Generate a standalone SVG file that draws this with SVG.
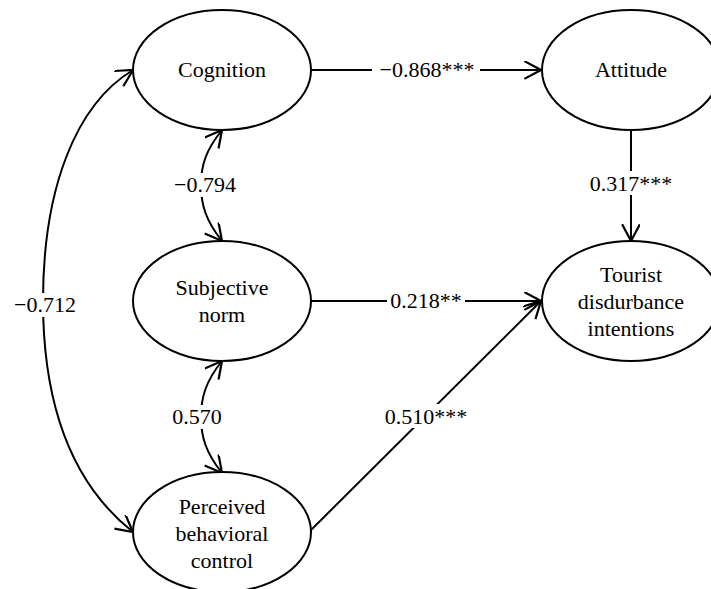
<svg xmlns="http://www.w3.org/2000/svg" width="711" height="589" viewBox="0 0 711 589">
<style>
.node ellipse{fill:#fff;stroke:#000;stroke-width:2}
text{font-family:"Liberation Serif","Times New Roman",serif;font-size:22px;fill:#000;text-anchor:middle}
.conn path,.conn line{fill:none;stroke:#000;stroke-width:2}
.bg{fill:#fff}
</style>
<defs>
<marker id="arr" markerUnits="userSpaceOnUse" markerWidth="20" markerHeight="20" viewBox="0 0 18 18" refX="16" refY="8" orient="auto-start-reverse">
<path d="M1,0 L16,8 L1,16" fill="none" stroke="#000" stroke-width="2"/>
</marker>
</defs>
<g id="connectors" class="conn">
<line x1="311" y1="70" x2="541" y2="70" marker-end="url(#arr)"/>
<line x1="631" y1="130" x2="631" y2="241" marker-end="url(#arr)"/>
<line x1="311" y1="301" x2="541" y2="301" marker-end="url(#arr)"/>
<line x1="311" y1="530" x2="541" y2="301" marker-end="url(#arr)"/>
<path d="M222,130 C206,150 201,165 201,185 C201,205 206,221 222,241" marker-start="url(#arr)" marker-end="url(#arr)"/>
<path d="M222,361 C206,381 201,397 201,417 C201,437 206,453 222,473" marker-start="url(#arr)" marker-end="url(#arr)"/>
<path d="M133,70 C75,105 43,190 43,301 C43,420 80,490 133,532" marker-start="url(#arr)" marker-end="url(#arr)"/>
<rect class="bg" x="372" y="58" width="108" height="24"/>
<text x="427" y="77">−0.868***</text>
<rect class="bg" x="586" y="171" width="90" height="24"/>
<text x="631" y="191">0.317***</text>
<rect class="bg" x="387" y="289" width="78" height="24"/>
<text x="426" y="308">0.218**</text>
<rect class="bg" x="381" y="404" width="90" height="24"/>
<text x="426" y="424">0.510***</text>
<rect class="bg" x="170" y="173" width="70" height="24"/>
<text x="205" y="192">−0.794</text>
<rect class="bg" x="170" y="405" width="54" height="24"/>
<text x="197" y="424">0.570</text>
<rect class="bg" x="11" y="293" width="68" height="24"/>
<text x="45" y="312">−0.712</text>
</g>
<g id="cognition" class="node">
<ellipse cx="222" cy="70" rx="89" ry="60"/>
<text x="222" y="77">Cognition</text>
</g>
<g id="attitude" class="node">
<ellipse cx="631" cy="70" rx="89" ry="60"/>
<text x="631" y="77">Attitude</text>
</g>
<g id="subjective-norm" class="node">
<ellipse cx="222" cy="301" rx="89" ry="60"/>
<text x="222" y="295">Subjective</text>
<text x="222" y="322">norm</text>
</g>
<g id="tourist-disturbance" class="node">
<ellipse cx="631" cy="301" rx="89" ry="60"/>
<text x="631" y="282">Tourist</text>
<text x="631" y="309">disdurbance</text>
<text x="631" y="336">intentions</text>
</g>
<g id="perceived-behavioral-control" class="node">
<ellipse cx="222" cy="532" rx="89" ry="60"/>
<text x="222" y="514">Perceived</text>
<text x="222" y="541">behavioral</text>
<text x="222" y="568">control</text>
</g>
</svg>
